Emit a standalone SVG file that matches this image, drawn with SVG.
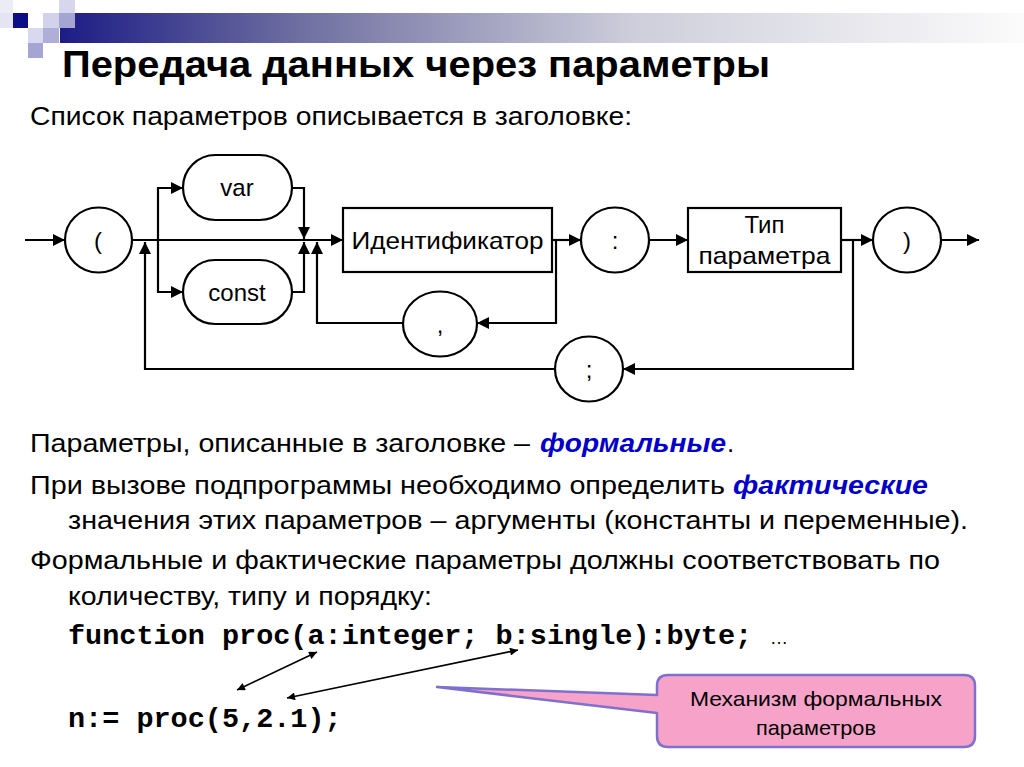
<svg xmlns="http://www.w3.org/2000/svg" width="1024" height="767" viewBox="0 0 1024 767">
<defs>
  <linearGradient id="bar" x1="0" y1="0" x2="1" y2="0">
    <stop offset="0" stop-color="#1c1c86"/>
    <stop offset="0.25" stop-color="#6f6fa1"/>
    <stop offset="0.6" stop-color="#cfcfdc"/>
    <stop offset="1" stop-color="#fbfbfb"/>
  </linearGradient>
  <marker id="ah" viewBox="0 0 10 10" markerUnits="userSpaceOnUse" markerWidth="16" markerHeight="12" refX="10" refY="5" orient="auto">
    <path d="M0,0 L10,5 L0,10 z" fill="#000"/>
  </marker>
  <marker id="sh" viewBox="0 0 10 10" markerUnits="userSpaceOnUse" markerWidth="11" markerHeight="8" refX="10" refY="5" orient="auto-start-reverse">
    <path d="M0,0 L10,5 L0,10 z" fill="#000"/>
  </marker>
</defs>
<style>
  .ln{fill:none;stroke:#000;stroke-width:2.2}
  .nd{fill:#fff;stroke:#000;stroke-width:2.2}
  .lb{font-family:"Liberation Sans",Arial,sans-serif;font-size:24px;fill:#000;text-anchor:middle}
  .tx{font-family:"Liberation Sans",Arial,sans-serif;font-size:26px;fill:#000}
  .em{font-family:"Liberation Sans",Arial,sans-serif;font-size:26px;fill:#0000c8;font-weight:bold;font-style:italic}
  .cd{font-family:"Liberation Mono","Courier New",monospace;font-size:28.5px;font-weight:bold;fill:#000}
</style>
<rect width="1024" height="767" fill="#fff"/>
<!-- header decoration -->
<g id="header">
  <rect x="60" y="13" width="964" height="30" fill="url(#bar)"/>
  <rect x="0" y="0" width="13" height="13" fill="#ececf6"/>
  <rect x="0" y="13" width="13" height="15" fill="#e4e4f2"/>
  <rect x="13" y="13" width="15" height="15" fill="#0d0d85"/>
  <rect x="43" y="13" width="16" height="15" fill="#d2d2ea"/>
  <rect x="59" y="0" width="16" height="13" fill="#d6d6ec"/>
  <rect x="59" y="13" width="16" height="15" fill="#a5a5d4"/>
  <rect x="28" y="28" width="15" height="15" fill="#d8d8ee"/>
  <rect x="43" y="28" width="16" height="15" fill="#aeaed8"/>
  <rect x="28" y="43" width="15" height="15" fill="#a5a5d4"/>
  <text x="62" y="77" font-family="Liberation Sans,Arial,sans-serif" font-size="36" font-weight="bold" fill="#000" textLength="708" lengthAdjust="spacingAndGlyphs">Передача данных через параметры</text>
</g>
<text class="tx" x="30" y="125" textLength="602" lengthAdjust="spacingAndGlyphs">Список параметров описывается в заголовке:</text>

<!-- connectors -->
<g id="connectors">
  <path class="ln" d="M25,240 H65" marker-end="url(#ah)"/>
  <path class="ln" d="M132,240 H343" marker-end="url(#ah)"/>
  <path class="ln" d="M158,240 V188 H183" marker-end="url(#ah)"/>
  <path class="ln" d="M158,240 V292 H183" marker-end="url(#ah)"/>
  <path class="ln" d="M292,188 H304 V239" marker-end="url(#ah)"/>
  <path class="ln" d="M292,292 H304 V242" marker-end="url(#ah)"/>
  <path class="ln" d="M552,240 H581" marker-end="url(#ah)"/>
  <path class="ln" d="M556,240 V323 H477" marker-end="url(#ah)"/>
  <path class="ln" d="M403,323 H317 V242" marker-end="url(#ah)"/>
  <path class="ln" d="M649,240 H688" marker-end="url(#ah)"/>
  <path class="ln" d="M841,240 H873" marker-end="url(#ah)"/>
  <path class="ln" d="M853,240 V369 H623" marker-end="url(#ah)"/>
  <path class="ln" d="M555,369 H145 V242" marker-end="url(#ah)"/>
  <path class="ln" d="M941,240 H979" marker-end="url(#ah)"/>
</g>

<!-- nodes -->
<g id="n-lparen"><ellipse class="nd" cx="98.5" cy="240" rx="33.5" ry="32.5"/><text class="lb" x="98" y="249">(</text></g>
<g id="n-var"><rect class="nd" x="183" y="155" width="109" height="65" rx="32.5"/><text class="lb" x="237" y="196">var</text></g>
<g id="n-const"><rect class="nd" x="183" y="260" width="109" height="64" rx="32"/><text class="lb" x="237" y="301">const</text></g>
<g id="n-ident"><rect class="nd" x="343" y="208" width="209" height="64"/><text class="lb" x="447.5" y="249" textLength="192" lengthAdjust="spacingAndGlyphs">Идентификатор</text></g>
<g id="n-colon"><ellipse class="nd" cx="615" cy="240" rx="34" ry="32.5"/><text class="lb" x="615" y="249">:</text></g>
<g id="n-comma"><ellipse class="nd" cx="440" cy="324" rx="37" ry="32.5"/><text class="lb" x="440" y="333">,</text></g>
<g id="n-type"><rect class="nd" x="688" y="208" width="153" height="64"/><text class="lb" x="764.5" y="233">Тип</text><text class="lb" x="764.5" y="264" textLength="132" lengthAdjust="spacingAndGlyphs">параметра</text></g>
<g id="n-semi"><ellipse class="nd" cx="589" cy="369" rx="34" ry="32.5"/><text class="lb" x="589" y="378">;</text></g>
<g id="n-rparen"><ellipse class="nd" cx="907" cy="240" rx="34" ry="32.5"/><text class="lb" x="907" y="249">)</text></g>

<!-- body text -->
<text class="tx" x="30" y="452" textLength="500" lengthAdjust="spacingAndGlyphs">Параметры, описанные в заголовке –</text>
<text class="em" x="540" y="452" textLength="186" lengthAdjust="spacingAndGlyphs">формальные</text>
<text class="tx" x="727" y="452">.</text>
<text class="tx" x="30" y="494" textLength="695" lengthAdjust="spacingAndGlyphs">При вызове подпрограммы необходимо определить</text>
<text class="em" x="733" y="494" textLength="195" lengthAdjust="spacingAndGlyphs">фактические</text>
<text class="tx" x="68" y="529" textLength="900" lengthAdjust="spacingAndGlyphs">значения этих параметров – аргументы (константы и переменные).</text>
<text class="tx" x="30" y="569" textLength="910" lengthAdjust="spacingAndGlyphs">Формальные и фактические параметры должны соответствовать по</text>
<text class="tx" x="68" y="605" textLength="364" lengthAdjust="spacingAndGlyphs">количеству, типу и порядку:</text>
<text class="cd" x="68" y="644">function proc(a:integer; b:single):byte;</text>
<text x="770" y="644" font-family="Liberation Sans,Arial,sans-serif" font-size="18" fill="#000">…</text>
<text class="cd" x="68" y="727">n:= proc(5,2.1);</text>

<!-- correspondence arrows -->
<g id="pairs">
  <line x1="237" y1="690" x2="317" y2="652" stroke="#000" stroke-width="1.6" marker-start="url(#sh)" marker-end="url(#sh)"/>
  <line x1="287" y1="698" x2="518" y2="650" stroke="#000" stroke-width="1.6" marker-start="url(#sh)" marker-end="url(#sh)"/>
</g>

<!-- callout -->
<g id="callout">
  <path d="M668,675 H964 Q975,675 975,686 V736 Q975,747 964,747 H668 Q657,747 657,736 V713 L437,687 L657,695 V686 Q657,675 668,675 Z" fill="#f7a3c9" stroke="#7e70cc" stroke-width="2.5" stroke-linejoin="round"/>
  <text x="816" y="706" font-family="Liberation Sans,Arial,sans-serif" font-size="21" fill="#000" text-anchor="middle" textLength="252" lengthAdjust="spacingAndGlyphs">Механизм формальных</text>
  <text x="816" y="735" font-family="Liberation Sans,Arial,sans-serif" font-size="21" fill="#000" text-anchor="middle" textLength="120" lengthAdjust="spacingAndGlyphs">параметров</text>
</g>
</svg>
